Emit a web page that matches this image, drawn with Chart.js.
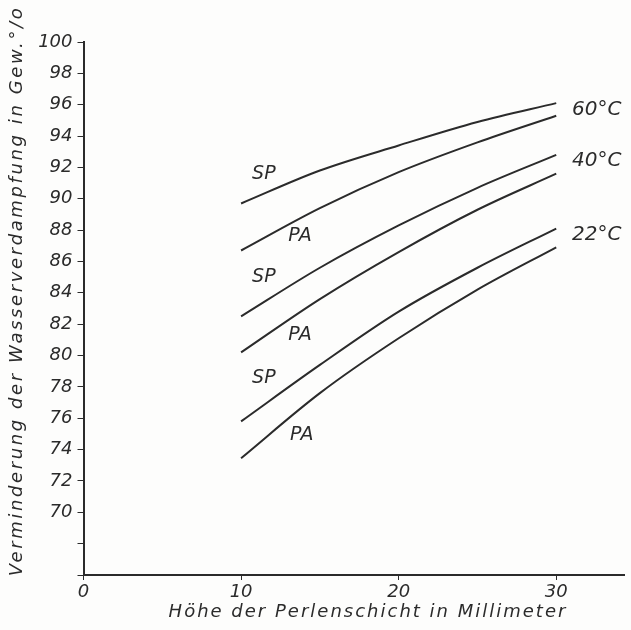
<!DOCTYPE html>
<html lang="de">
<head>
  <meta charset="UTF-8">
  <title>Verminderung der Wasserverdampfung</title>
  <script src="https://cdn.jsdelivr.net/npm/chart.js"></script>
  <style>
    html, body {
      margin: 0;
      padding: 0;
      background-color: #fdfdfc;
    }
    #wrap {
      width: 631px;
      height: 630px;
    }
  </style>
</head>
<body>
  <div id="wrap"><canvas id="chart" width="631" height="630"></canvas></div>

  <script>
    // Höhe der Perlenschicht (mm)
    const heights = [10, 15, 20, 25, 30];

    // Verminderung der Wasserverdampfung in Gew.-%
    const sp60 = [89.7, 91.8, 93.4, 94.9, 96.1];
    const pa60 = [86.7, 89.4, 91.7, 93.6, 95.3];
    const sp40 = [82.5, 85.6, 88.3, 90.7, 92.8];
    const pa40 = [80.2, 83.6, 86.6, 89.3, 91.6];
    const sp22 = [75.8, 79.4, 82.8, 85.6, 88.1];
    const pa22 = [73.45, 77.6, 81.1, 84.2, 86.9];

    const xTicks = [0, 10, 20, 30];
    const yTicks = [66, 68, 70, 72, 74, 76, 78, 80, 82, 84, 86, 88, 90, 92, 94, 96, 98, 100];

    // curve labels, placed in data coordinates
    const curveLabels = ["SP", "PA", "SP", "PA", "SP", "PA"];
    const curveLabelX = [10.7, 13.0, 10.7, 13.0, 10.7, 13.1];
    const curveLabelY = [91.6, 87.6, 85.0, 81.3, 78.55, 74.9];

    const tempLabels = ["60°C", "40°C", "22°C"];
    const tempLabelX = [31.0, 31.0, 31.0];
    const tempLabelY = [95.65, 92.45, 87.7];

    const xTitle = "Höhe der Perlenschicht in Millimeter";
    const yTitle = "Verminderung der Wasserverdampfung in Gew.°/o";

    const ink = "#2b2b2b";
    const font = "'DejaVu Sans', sans-serif";

    const series = [sp60, pa60, sp40, pa40, sp22, pa22];
    const names = ["SP 60°C", "PA 60°C", "SP 40°C", "PA 40°C", "SP 22°C", "PA 22°C"];

    const datasets = series.map((vals, i) => ({
      label: names[i],
      data: heights.map((h, j) => ({ x: h, y: vals[j] })),
      borderColor: ink,
      borderWidth: 2,
      pointRadius: 0,
      fill: false,
      cubicInterpolationMode: 'monotone'
    }));

    // texts on the plot and the two axis titles
    const textPlugin = {
      id: 'texts',
      afterDraw(chart) {
        const ctx = chart.ctx;
        const xs = chart.scales.x, ys = chart.scales.y;
        ctx.save();
        ctx.fillStyle = ink;
        ctx.font = "italic 19px " + font;
        ctx.textAlign = "left";
        ctx.textBaseline = "middle";
        curveLabels.forEach((t, i) => {
          ctx.fillText(t, xs.getPixelForValue(curveLabelX[i]), ys.getPixelForValue(curveLabelY[i]));
        });
        ctx.font = "italic 20px " + font;
        tempLabels.forEach((t, i) => {
          ctx.fillText(t, xs.getPixelForValue(tempLabelX[i]), ys.getPixelForValue(tempLabelY[i]));
        });

        ctx.font = "italic 18px " + font;
        ctx.letterSpacing = "2px";
        ctx.textAlign = "center";
        ctx.fillText(xTitle, 368, 612);

        ctx.translate(17, 291);
        ctx.rotate(-Math.PI / 2);
        ctx.letterSpacing = "2.6px";
        ctx.fillText(yTitle, 0, 0);
        ctx.restore();
      }
    };

    new Chart(document.getElementById("chart").getContext("2d"), {
      type: 'line',
      data: { datasets: datasets },
      plugins: [textPlugin],
      options: {
        responsive: false,
        animation: false,
        layout: { padding: { top: 42, right: 7, left: 0, bottom: 0 } },
        plugins: {
          legend: { display: false },
          tooltip: { enabled: false }
        },
        scales: {
          x: {
            type: 'linear',
            min: 0,
            max: 34.3,
            afterBuildTicks: scale => { scale.ticks = xTicks.map(v => ({ value: v })); },
            afterFit: scale => { scale.height = 55; },
            border: { display: true, color: ink, width: 2 },
            grid: { drawOnChartArea: false, drawTicks: true, tickLength: 5, color: ink },
            ticks: {
              color: ink,
              padding: 2,
              maxRotation: 0,
              font: { family: font, size: 18, style: 'italic' }
            }
          },
          y: {
            type: 'linear',
            min: 66,
            max: 100,
            afterBuildTicks: scale => { scale.ticks = yTicks.map(v => ({ value: v })); },
            afterFit: scale => { scale.width = 83.5; },
            border: { display: true, color: ink, width: 2 },
            grid: { drawOnChartArea: false, drawTicks: true, tickLength: 6, color: ink },
            ticks: {
              color: ink,
              padding: 5,
              font: { family: font, size: 18, style: 'italic' },
              callback: v => (v < 70 ? '' : v)
            }
          }
        }
      }
    });
  </script>
</body>
</html>
